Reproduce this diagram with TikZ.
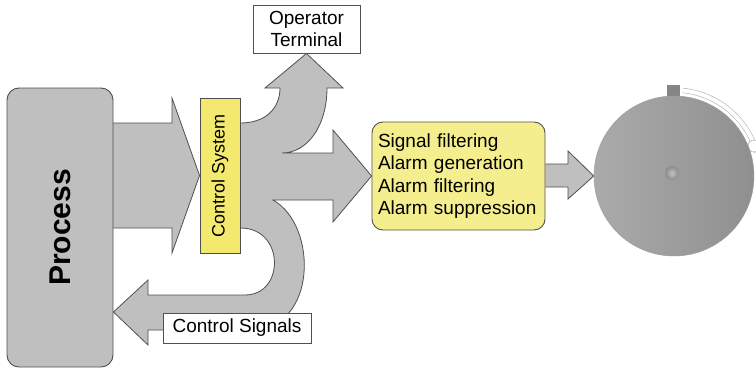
\documentclass[tikz,border=0pt]{standalone}
\usepackage{graphicx}
\usepackage{fontspec}
\setmainfont{Liberation Sans}
\usetikzlibrary{backgrounds}

\definecolor{arrowgray}{HTML}{BFBFBF}
\definecolor{edgegray}{HTML}{505050}
\definecolor{ctrlyellow}{HTML}{F2E96E}
\definecolor{alarmyellow}{HTML}{F5EE8E}

\begin{document}
\begin{tikzpicture}[
    x=1pt, y=-1pt,
    txt/.style={font=\fontsize{19}{22.3}\selectfont},
    procbox/.style={rectangle, rounded corners=12pt, draw=edgegray, fill=arrowgray, line width=0.9pt, minimum width=106pt, minimum height=279pt, font=\fontsize{30}{30}\selectfont\bfseries},
    ctrlbox/.style={rectangle, draw=edgegray, fill=ctrlyellow, line width=0.9pt, minimum width=40pt, minimum height=155pt, inner sep=0pt, font=\fontsize{18}{18}\selectfont},
    alarmbox/.style={rectangle, rounded corners=11pt, draw=edgegray, fill=alarmyellow, line width=0.9pt, text width=161pt, minimum height=108pt, align=left, inner xsep=6pt, txt},
    labelbox/.style={rectangle, draw=edgegray, fill=white, line width=0.9pt, align=center, inner sep=0pt, txt},
    blockarrow/.style={draw=edgegray, fill=arrowgray, line width=0.8pt, line join=miter},
    bellbody/.style={circle, minimum size=160pt, inner sep=0pt, draw=black!38, line width=0.5pt, left color=black!33, middle color=black!29, right color=black!44},
]
\useasboundingbox (0,0) rectangle (756,372);

% Boxes
\node[procbox] (process) at (60,227.5) {\rotatebox{90}{Process}};
\node[ctrlbox] (ctrl) at (220,175.5) {\rotatebox{90}{Control System}};
\node[labelbox, minimum width=107pt, minimum height=48pt] (operator) at (306.5,29) {Operator\\Terminal};
\node[labelbox, minimum width=148pt, minimum height=30pt] (signals) at (237,328) {Control Signals};
\node[alarmbox] (alarms) at (458.5,176) {Signal filtering\\Alarm generation\\Alarm filtering\\Alarm suppression};

% Bell
\node[bellbody] (bell) at (674,176) {};
\shade[inner color=black!24, outer color=black!46, draw=black!40, line width=0.3pt] (672,173) circle[radius=7];

\begin{scope}[on background layer]
% Process -> control system
\draw[blockarrow] (113,123) -- (172,123) -- (172,98) -- (ctrl.west)
  -- (172,253) -- (172,228) -- (113,228);

% Control system -> operator, alarms and back to the process
\draw[blockarrow] (ctrl.east |- 0,123)
  .. controls (266,123) and (280,108) .. (280,88)
  -- (265,88) -- (operator.south) -- (343,88) -- (327,88)
  .. controls (327,125) and (308,153) .. (282,153)
  -- (333,153) -- (333,130) -- (alarms.west) -- (333,222) -- (333,200) -- (273,200)
  .. controls (318,225) and (318,330) .. (250,330)
  -- (148,330) -- (148,345) -- (process.east |- 0,312) -- (148,280) -- (148,295) -- (245,295)
  .. controls (285,295) and (285,228) .. (ctrl.east |- 0,228)
  -- cycle;

% Alarms -> bell
\draw[blockarrow] (alarms.east |- 0,164) -- (568,164) -- (568,151) -- (bell.west)
  -- (568,199) -- (568,187) -- (alarms.east |- 0,187);

% knob and wire on top of the bell
\fill[black!48] (667,85) rectangle (680,97);
\draw[black!30, line width=0.6pt, double=white, double distance=4pt]
  (674,176) ++(-84:86) arc[start angle=-84, end angle=-16, radius=86];
\draw[black!30, fill=white, line width=0.6pt] (754,146) circle[radius=6];
\end{scope}
\end{tikzpicture}
\end{document}
